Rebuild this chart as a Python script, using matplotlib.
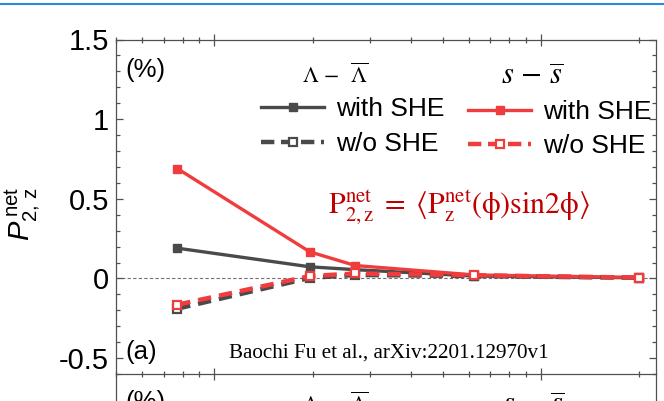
import matplotlib.pyplot as plt
from matplotlib.lines import Line2D
from matplotlib.ticker import FixedLocator, LogLocator, NullFormatter, FixedFormatter

plt.rcParams['font.family'] = ['Liberation Sans', 'DejaVu Sans']
plt.rcParams['mathtext.fontset'] = 'custom'
plt.rcParams['mathtext.rm'] = 'Liberation Sans'
plt.rcParams['mathtext.it'] = 'Liberation Sans:italic'

# collision energy (GeV), log axis
energy = [7.7, 19.6, 27, 62.4, 200]
lam_with = [0.19, 0.073, 0.055, 0.015, 0.004]
lam_without = [-0.19, 0.003, 0.022, 0.015, 0.004]
s_with = [0.69, 0.167, 0.081, 0.022, 0.006]
s_without = [-0.165, 0.015, 0.031, 0.02, 0.005]

yticks = [-0.5, 0, 0.5, 1, 1.5]
ytick_labels = ["-0.5", "0", "0.5", "1", "1.5"]

gray = "#4a4a4a"
red = "#f03c3c"
dark_red = "#c00000"

fig = plt.figure(figsize=(6.64, 4.01), dpi=100)
W, H = 664, 401


def fig_box(x0, y0, x1, y1):
    return [x0 / W, (H - y1) / H, (x1 - x0) / W, (y1 - y0) / H]


ax = fig.add_axes(fig_box(116, 39.5, 656, 374))

ax.axhline(0, color="#707070", lw=0.8, ls=(0, (3, 2)), zorder=1)

ax.plot(energy, lam_with, "-s", color=gray, lw=2.4, ms=6, zorder=3)
ax.plot(energy, s_with, "-s", color=red, lw=2.4, ms=6, zorder=3)
ax.plot(energy, lam_without, "--s", color=gray, lw=3.2, ms=6,
        mfc="white", mew=1.6, dashes=(3, 1.8), zorder=4)
ax.plot(energy, s_without, "--s", color=red, lw=3.2, ms=6,
        mfc="white", mew=1.6, dashes=(3, 1.8), zorder=4)

ax.set_xscale("log")
ax.set_xlim(5, 225)
ax.set_ylim(-0.6, 1.5)
ax.xaxis.set_major_locator(LogLocator(base=10))
ax.xaxis.set_minor_locator(LogLocator(base=10, subs=range(2, 10)))
ax.xaxis.set_major_formatter(NullFormatter())
ax.xaxis.set_minor_formatter(NullFormatter())
ax.yaxis.set_major_locator(FixedLocator(yticks))
ax.yaxis.set_major_formatter(FixedFormatter(ytick_labels))
ax.yaxis.set_minor_locator(FixedLocator([i / 10 for i in range(-6, 16)]))

ax.tick_params(which="both", direction="in", top=True, right=True,
               color="#505050", width=0.9)
ax.tick_params(which="major", length=5, labelsize=21, pad=5)
ax.tick_params(which="minor", length=3)
ax.tick_params(axis="x", which="both", bottom=True, direction="inout")
ax.tick_params(axis="x", which="major", length=8)
ax.tick_params(axis="x", which="minor", length=5)
for sp in ax.spines.values():
    sp.set_color("#505050")
    sp.set_linewidth(0.9)

ax.set_ylabel(r"$P^{\,\mathrm{net}}_{2,\,\mathrm{z}}$", fontsize=21)
ax.yaxis.set_label_coords(-0.137, 0.48)

ax.text(0.017, 0.91, "(%)", transform=ax.transAxes, fontsize=18.5, va="center")
ax.text(0.017, 0.066, "(a)", transform=ax.transAxes, fontsize=18.5, va="center")

ax.text(0.406, 0.870, r"$\Lambda\,-\;\;\overline{\Lambda}$", transform=ax.transAxes,
        fontsize=16, ha="center", va="baseline", math_fontfamily="stix")
ax.text(0.772, 0.864, r"$s\,-\,\overline{s}$", transform=ax.transAxes,
        fontsize=22, ha="center", va="baseline", math_fontfamily="stix")

ax.text(0.635, 0.50,
        r"$\mathrm{P}_{2,\mathrm{z}}^{\mathrm{net}}\;=\;\langle\mathrm{P}_{\mathrm{z}}^{\mathrm{net}}(\mathrm{\phi})\mathrm{sin2}\mathrm{\phi}\rangle$",
        transform=ax.transAxes, fontsize=21.5, color=dark_red, ha="center",
        va="center", math_fontfamily="stix")

ax.text(0.209, 0.048, "Baochi Fu et al., arXiv:2201.12970v1",
        transform=ax.transAxes, fontsize=15.2, family="Liberation Serif",
        va="baseline")

h_lam = [Line2D([], [], color=gray, lw=2.4, marker="s", ms=6),
         Line2D([], [], color=gray, lw=3.2, marker="s", ms=6, mfc="white",
                mew=1.6, dashes=(3, 1.5))]
h_s = [Line2D([], [], color=red, lw=2.4, marker="s", ms=6),
       Line2D([], [], color=red, lw=3.2, marker="s", ms=6, mfc="white",
              mew=1.6, dashes=(3, 1.5))]
labels = ["with SHE", "w/o SHE"]

leg1 = ax.legend(h_lam, labels, loc="upper left", bbox_to_anchor=(0.2685, 0.827),
                 frameon=False, fontsize=19, handlelength=2.4,
                 handletextpad=0.45, borderpad=0, borderaxespad=0,
                 labelspacing=0.4)
ax.add_artist(leg1)
ax.legend(h_s, labels, loc="upper left", bbox_to_anchor=(0.652, 0.818),
          frameon=False, fontsize=19, handlelength=2.4,
          handletextpad=0.45, borderpad=0, borderaxespad=0,
          labelspacing=0.36)

# top of panel (b), cut off by the figure edge as in the reference
ax_b = fig.add_axes(fig_box(116, 374, 656, 700))
ax_b.set_xticks([])
ax_b.set_yticks([])
ax_b.spines["top"].set_visible(False)
ax_b.spines["bottom"].set_visible(False)
for sp in ("left", "right"):
    ax_b.spines[sp].set_color("#505050")
    ax_b.spines[sp].set_linewidth(0.9)
ax_b.patch.set_alpha(0)
fig.text(125 / W, (H - 390) / H, "(%)", fontsize=18.5, va="top")
fig.text(335 / W, (H - 412) / H, r"$\Lambda\,-\;\;\overline{\Lambda}$",
         fontsize=16, ha="center", va="baseline", math_fontfamily="stix")
fig.text(533 / W, (H - 414) / H, r"$s\,-\,\overline{s}$",
         fontsize=22, ha="center", va="baseline", math_fontfamily="stix")

fig.add_artist(Line2D([0, 1], [(H - 4) / H] * 2, color="#2b8ad8", lw=1.5,
                      transform=fig.transFigure))

fig.savefig("out.png", dpi=100)
